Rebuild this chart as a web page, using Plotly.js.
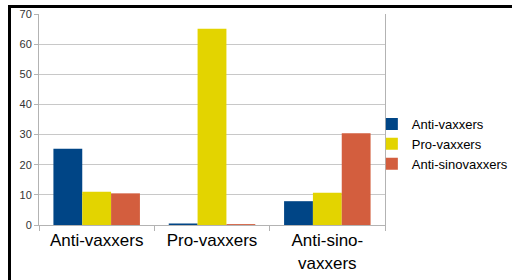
<!DOCTYPE html>
<html>
<head>
<meta charset="utf-8">
<script src="https://cdn.plot.ly/plotly-3.0.1.min.js"></script>
<style>
html,body{margin:0;padding:0;background:#fff;}
#wrap{position:relative;width:512px;height:280px;overflow:hidden;}
#chart{position:absolute;left:0;top:0;width:512px;height:280px;}
#frame{position:absolute;left:8px;top:5px;width:520px;height:300px;border-top:3px solid #000;border-left:3px solid #000;pointer-events:none;}
</style>
</head>
<body>
<div id="wrap"><div id="chart"></div><div id="frame"></div></div>
<script>
var categories = ["Anti-vaxxers", "Pro-vaxxers", "Anti-sino-<br>vaxxers"];
var seriesNames = ["Anti-vaxxers", "Pro-vaxxers", "Anti-sinovaxxers"];
var antiVaxxers = [25.3, 0.5, 7.9];
var proVaxxers = [11.0, 65.1, 10.7];
var antiSinovaxxers = [10.5, 0.3, 30.4];
var yTicks = [0, 10, 20, 30, 40, 50, 60, 70];

var colors = ["#004586", "#e3d400", "#d35e3e"];
var values = [antiVaxxers, proVaxxers, antiSinovaxxers];

var traces = values.map(function (v, i) {
  return {
    type: "bar",
    name: seriesNames[i],
    x: categories,
    y: v,
    marker: {color: colors[i], line: {width: 0}}
  };
});

var layout = {
  width: 512,
  height: 280,
  margin: {l: 39, r: 127, t: 14, b: 55, autoexpand: false},
  paper_bgcolor: "#fff",
  plot_bgcolor: "#fff",
  barmode: "group",
  bargap: 0.25,
  bargroupgap: 0,
  font: {family: "Liberation Sans, Arial, sans-serif", color: "#000"},
  showlegend: true,
  legend: {
    x: 0.962, xanchor: "left", y: 0.384, yanchor: "middle",
    font: {size: 13, color: "#000"},
    bgcolor: "rgba(0,0,0,0)",
    tracegroupgap: 0,
    itemwidth: 30
  },
  xaxis: {
    type: "category",
    tickson: "boundaries",
    ticks: "outside",
    ticklen: 5,
    tickcolor: "#b3b3b3",
    showline: true,
    linecolor: "#b3b3b3",
    linewidth: 1,
    showgrid: false,
    tickfont: {size: 17, color: "#000"},
    fixedrange: true
  },
  yaxis: {
    range: [0, 70],
    tickvals: yTicks,
    ticktext: yTicks.map(String),
    ticks: "outside",
    ticklen: 4,
    tickcolor: "#b3b3b3",
    showline: true,
    mirror: true,
    linecolor: "#b3b3b3",
    gridcolor: "#c8c8c8",
    zeroline: false,
    tickfont: {size: 11, color: "#333"},
    fixedrange: true
  }
};

Plotly.newPlot("chart", traces, layout, {displayModeBar: false, staticPlot: true});
</script>
</body>
</html>
